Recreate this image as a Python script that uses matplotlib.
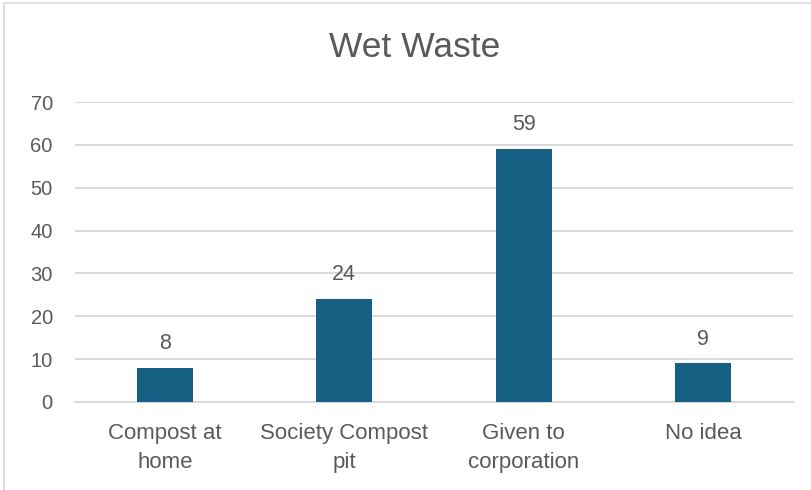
import matplotlib.pyplot as plt
from matplotlib.patches import Rectangle

categories = ["Compost at\nhome", "Society Compost\npit", "Given to\ncorporation", "No idea"]
counts = [8, 24, 59, 9]
yticks = [0, 10, 20, 30, 40, 50, 60, 70]

text_color = "#595959"
grid_color = "#d9d9d9"
bar_color = "#156082"

plt.rcParams["font.family"] = "Liberation Sans"

fig = plt.figure(figsize=(8.12, 4.90), dpi=100)
ax = fig.add_axes([0.0924, 0.1796, 0.8842, 0.6122])

x = range(len(categories))
bars = ax.bar(x, counts, width=0.31, color=bar_color, zorder=3)

ax.set_xlim(-0.5, len(categories) - 0.5)
ax.set_ylim(0, 70)
ax.set_yticks(yticks)
ax.set_xticks(list(x))
ax.set_xticklabels(categories, fontsize=16, color=text_color, linespacing=1.5)
ax.tick_params(axis="y", labelsize=14.5, labelcolor=text_color, length=0, pad=16)
ax.tick_params(axis="x", length=0, pad=15)

ax.grid(axis="y", color=grid_color, linewidth=1.4, zorder=0)
for side in ["top", "right", "left"]:
    ax.spines[side].set_visible(False)
ax.spines["bottom"].set_color(grid_color)
ax.spines["bottom"].set_linewidth(1.4)

# value labels above each bar
for rect, val in zip(bars, counts):
    ax.annotate(str(val), (rect.get_x() + rect.get_width() / 2, val),
                xytext=(0, 13.5), textcoords="offset points",
                ha="center", va="baseline", fontsize=15.5, color=text_color)

fig.text(0.511, 0.904, "Wet Waste", ha="center", va="center",
         fontsize=25.5, color=text_color)

# chart area border
fig.patches.append(Rectangle((4 / 812, -0.5), 1.5, 1.5 - 3 / 490,
                             transform=fig.transFigure, fill=False,
                             edgecolor="#d9d9d9", linewidth=1.2))

fig.savefig("out.png", dpi=100)
